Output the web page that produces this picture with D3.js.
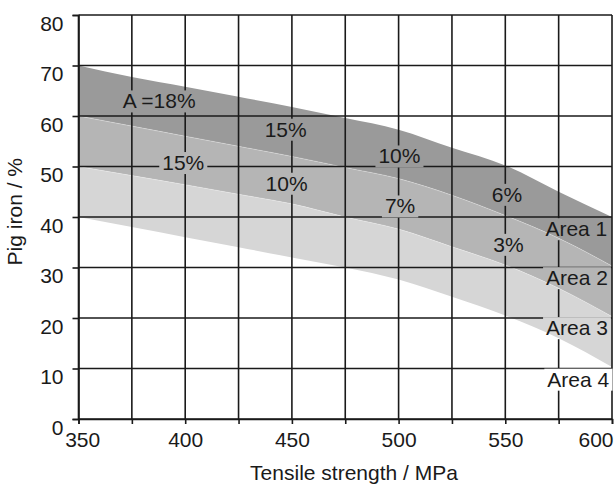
<!DOCTYPE html>
<html>
<head>
<meta charset="utf-8">
<script src="https://cdn.jsdelivr.net/npm/d3@7"></script>
<style>
  body { margin: 0; background: #fff; }
  svg { display: block; font-family: "Liberation Sans", Arial, sans-serif; }
</style>
</head>
<body>
<div id="chart"></div>
<script>
// tensile strength (MPa) and the four band edges (pig iron %)
const tensile = [350, 375, 400, 425, 450, 475, 500, 525, 550, 575, 600];
const edge1 = [70, 67.7, 65.8, 63.8, 61.8, 59.6, 57.3, 53.7, 50.2, 45, 40];
const edge2 = [60, 58, 56, 54, 52, 49.8, 47.6, 44.3, 40.3, 35.8, 30.3];
const edge3 = [50, 48.2, 46.4, 44.5, 42.6, 40, 37.6, 34.1, 30.5, 25.9, 20.3];
const edge4 = [40, 38, 36, 34, 32, 30, 27.6, 24.2, 20.5, 16, 10.3];

const xGrid = [350, 375, 400, 425, 450, 475, 500, 525, 550, 575, 600];
const xLabels = [350, 400, 450, 500, 550, 600];
const yTicks = [0, 10, 20, 30, 40, 50, 60, 70, 80];

const noteText = ['A =18%', '15%', '15%', '10%', '10%', '7%', '6%', '3%', 'Area 1', 'Area 2', 'Area 3', 'Area 4'];
const noteX = [387.8, 447.1, 399.1, 447.5, 500.4, 500.7, 550.8, 551.5, 583.3, 583.6, 583.6, 584.2];
const noteY = [61.5, 55.9, 49.3, 45.2, 50.6, 40.7, 43.0, 33.1, 36.2, 26.5, 16.6, 6.4];

const W = 614, H = 486;
const FS = 21;
const margin = { left: 78.5, right: 2, top: 15, bottom: 67 };

const x = d3.scaleLinear().domain([350, 600]).range([margin.left, W - margin.right]);
const y = d3.scaleLinear().domain([0, 80]).range([H - margin.bottom, margin.top]);

const svg = d3.select('#chart').append('svg')
    .attr('width', W)
    .attr('height', H)
    .attr('viewBox', `0 0 ${W} ${H}`);

const defs = svg.append('defs');
const mask = defs.append('mask').attr('id', 'gridmask').attr('maskUnits', 'userSpaceOnUse')
    .attr('x', 0).attr('y', 0).attr('width', W).attr('height', H);
mask.append('rect').attr('width', W).attr('height', H).attr('fill', '#fff');

// bands
const pts = tensile.map((t, i) => ({ t, e1: edge1[i], e2: edge2[i], e3: edge3[i], e4: edge4[i] }));
const bands = [
    { top: 'e1', bot: 'e2', fill: '#9a9a9a' },
    { top: 'e2', bot: 'e3', fill: '#b5b5b5' },
    { top: 'e3', bot: 'e4', fill: '#d6d6d6' }
];
const area = (a, b) => d3.area()
    .x(d => x(d.t))
    .y0(d => y(d[b]))
    .y1(d => y(d[a]))
    .curve(d3.curveMonotoneX);

svg.append('g').selectAll('path')
    .data(bands)
    .join('path')
    .attr('d', b => area(b.top, b.bot)(pts))
    .attr('fill', b => b.fill);

// faint light seams between bands
['e2', 'e3'].forEach(k => {
    svg.append('path')
        .attr('d', d3.line().x(d => x(d.t)).y(d => y(d[k])).curve(d3.curveMonotoneX)(pts))
        .attr('fill', 'none')
        .attr('stroke', '#fff')
        .attr('stroke-opacity', 0.35)
        .attr('stroke-width', 0.8);
});

// grid
const grid = svg.append('g').attr('mask', 'url(#gridmask)')
    .attr('stroke', '#1a1a1a').attr('stroke-width', 1.6);
grid.selectAll('.h').data(yTicks).join('line')
    .attr('x1', x(350)).attr('x2', x(600))
    .attr('y1', d => y(d)).attr('y2', d => y(d));
grid.selectAll('.v').data(xGrid).join('line')
    .attr('x1', d => x(d)).attr('x2', d => x(d))
    .attr('y1', y(80)).attr('y2', y(0));

// axes
const yAxis = svg.append('g')
    .attr('transform', `translate(${x(350)},0)`)
    .call(d3.axisLeft(y).tickValues(yTicks).tickSize(6).tickPadding(9));
yAxis.selectAll('text').attr('dy', '0.73em');

const xAxis = svg.append('g')
    .attr('transform', `translate(0,${y(0)})`)
    .call(d3.axisBottom(x).tickValues(xGrid).tickSize(5).tickPadding(7.8)
        .tickFormat(d => xLabels.includes(d) ? d : ''));
xAxis.selectAll('.tick').filter(d => d === 350).select('text').attr('dx', 3.7);
xAxis.selectAll('.tick').filter(d => d === 600).select('text')
    .attr('text-anchor', 'end').attr('dx', 1);

[yAxis, xAxis].forEach(a => {
    a.select('.domain').attr('stroke', '#1a1a1a').attr('stroke-width', 1.6);
    a.selectAll('line').attr('stroke', '#1a1a1a').attr('stroke-width', 1.6);
    a.selectAll('text').attr('font-size', FS).attr('fill', '#1a1a1a')
        .attr('font-family', '"Liberation Sans", Arial, sans-serif');
});

// axis titles
svg.append('text')
    .attr('x', 354).attr('y', 480)
    .attr('text-anchor', 'middle')
    .attr('font-size', FS).attr('fill', '#1a1a1a')
    .text('Tensile strength / MPa');
svg.append('text')
    .attr('transform', 'translate(21.5,211.7) rotate(-90)')
    .attr('text-anchor', 'middle')
    .attr('font-size', FS).attr('fill', '#1a1a1a')
    .text('Pig iron / %');

// annotations, with gaps cut into the grid
const notes = svg.append('g').selectAll('text')
    .data(noteText)
    .join('text')
    .attr('x', (d, i) => x(noteX[i]))
    .attr('y', (d, i) => y(noteY[i]))
    .attr('text-anchor', 'middle')
    .attr('font-size', FS)
    .attr('fill', '#1a1a1a')
    .text(d => d);

notes.each(function(d, i) {
    const bb = this.getBBox();
    const base = y(noteY[i]);
    mask.append('rect')
        .attr('x', bb.x - 3)
        .attr('y', base - 18)
        .attr('width', bb.width + 6)
        .attr('height', 22)
        .attr('fill', '#000');
});
</script>
</body>
</html>
